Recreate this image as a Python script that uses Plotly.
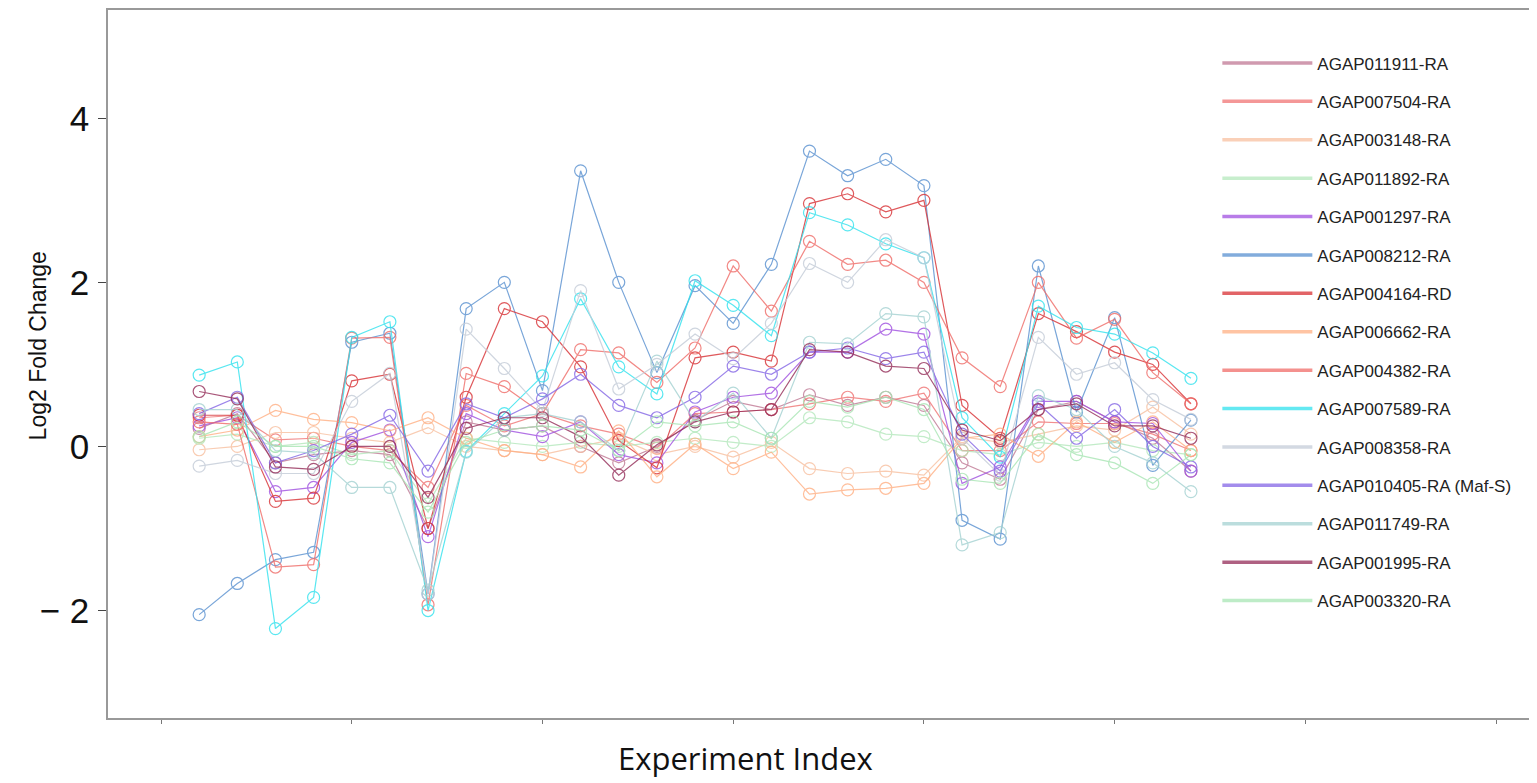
import plotly.graph_objects as go

experiments = list(range(1, 28))

gene_names = [
    "AGAP011911-RA", "AGAP007504-RA", "AGAP003148-RA", "AGAP011892-RA",
    "AGAP001297-RA", "AGAP008212-RA", "AGAP004164-RD", "AGAP006662-RA",
    "AGAP004382-RA", "AGAP007589-RA", "AGAP008358-RA", "AGAP010405-RA (Maf-S)",
    "AGAP011749-RA", "AGAP001995-RA", "AGAP003320-RA",
]

agap011911 = [0.22, 0.4, -0.2, -0.1, -0.05, -0.1, -1.0, 0.3, 0.2, 0.25, 0.0, -0.2, 0.0, 0.32, 0.55, 0.45, 0.63, 0.5, 0.6, 0.5, -0.2, -0.4, 0.45, 0.55, 0.3, 0.1, -0.3]
agap007504 = [0.35, 0.38, 0.08, 0.1, 0.0, -0.05, -0.5, 0.5, 0.25, 0.4, 0.25, 0.15, -0.02, 0.4, 0.42, 0.45, 0.52, 0.6, 0.55, 0.65, -0.05, -0.05, 0.3, 0.28, 0.28, 0.15, -0.05]
agap003148 = [-0.04, 0.0, 0.17, 0.17, 0.1, 0.05, 0.23, 0.0, -0.05, -0.1, 0.0, 0.1, -0.1, 0.0, -0.13, 0.05, -0.27, -0.33, -0.3, -0.35, 0.12, 0.05, 0.15, 0.25, 0.2, 0.48, 0.15]
agap011892 = [0.1, 0.15, 0.0, 0.05, -0.1, -0.05, -0.7, 0.1, 0.05, 0.0, 0.05, 0.0, 0.05, 0.1, 0.05, 0.0, 0.35, 0.3, 0.15, 0.12, -0.05, -0.1, 0.05, 0.0, 0.05, -0.05, -0.1]
agap001297 = [0.25, 0.35, -0.55, -0.5, 0.05, 0.2, -1.1, 0.4, 0.2, 0.12, 0.3, -0.1, -0.2, 0.42, 0.6, 0.65, 1.15, 1.15, 1.43, 1.37, -0.45, -0.25, 0.55, 0.55, 0.3, 0.28, -0.3]
agap008212 = [-2.05, -1.67, -1.38, -1.29, 1.27, 1.38, -1.8, 1.68, 2.0, 0.68, 3.36, 2.0, 0.9, 1.96, 1.5, 2.22, 3.6, 3.3, 3.5, 3.18, -0.9, -1.13, 2.2, 0.42, 1.57, -0.23, 0.32]
agap004164 = [0.38, 0.38, -0.67, -0.63, 0.8, 0.88, -1.0, 0.6, 1.68, 1.52, 0.97, 0.07, -0.26, 1.08, 1.15, 1.04, 2.96, 3.08, 2.86, 3.0, 0.5, 0.1, 1.62, 1.4, 1.15, 1.0, 0.52]
agap006662 = [0.12, 0.2, 0.44, 0.33, 0.29, 0.19, 0.35, 0.1, -0.05, -0.1, -0.25, 0.19, -0.37, 0.03, -0.27, -0.07, -0.58, -0.53, -0.51, -0.45, 0.1, 0.15, -0.12, 0.3, 0.05, 0.3, -0.05]
agap004382 = [0.3, 0.27, -1.47, -1.44, 1.32, 1.33, -1.93, 0.89, 0.73, 0.4, 1.18, 1.14, 0.78, 1.2, 2.2, 1.65, 2.5, 2.22, 2.27, 2.0, 1.08, 0.73, 2.0, 1.32, 1.55, 0.9, 0.52]
agap007589 = [0.87, 1.03, -2.22, -1.84, 1.33, 1.52, -2.0, -0.06, 0.4, 0.86, 1.8, 0.97, 0.64, 2.02, 1.72, 1.35, 2.85, 2.7, 2.47, 2.3, 0.35, -0.13, 1.71, 1.45, 1.37, 1.14, 0.83]
agap008358 = [-0.24, -0.17, -0.33, -0.33, 0.55, 0.89, -1.8, 1.43, 0.95, 0.44, 1.9, 0.7, 1.0, 1.37, 1.07, 1.5, 2.23, 2.0, 2.52, 2.3, 0.1, -0.35, 1.33, 0.88, 1.02, 0.57, 0.33]
agap010405 = [0.4, 0.6, -0.2, -0.05, 0.15, 0.38, -0.3, 0.52, 0.35, 0.58, 0.88, 0.5, 0.35, 0.6, 0.98, 0.88, 1.15, 1.2, 1.07, 1.15, 0.15, -0.3, 0.52, 0.1, 0.45, 0.0, -0.25]
agap011749 = [0.45, 0.45, -0.05, -0.08, -0.5, -0.5, -1.75, -0.07, 0.35, 0.4, 0.3, -0.05, 1.04, 0.3, 0.65, 0.1, 1.27, 1.25, 1.62, 1.58, -1.2, -1.05, 0.62, 0.45, 0.0, -0.2, -0.55]
agap001995 = [0.67, 0.58, -0.25, -0.28, 0.0, 0.0, -0.62, 0.22, 0.35, 0.35, 0.12, -0.35, 0.02, 0.3, 0.42, 0.45, 1.18, 1.15, 0.98, 0.95, 0.2, 0.07, 0.45, 0.52, 0.25, 0.25, 0.1]
agap003320 = [0.12, 0.3, 0.0, 0.0, -0.15, -0.2, -0.8, 0.05, 0.2, 0.25, 0.2, -0.05, 0.3, 0.25, 0.3, 0.1, 0.55, 0.48, 0.6, 0.45, -0.4, -0.45, 0.15, -0.1, -0.2, -0.45, -0.1]

series_values = [
    agap011911, agap007504, agap003148, agap011892, agap001297, agap008212,
    agap004164, agap006662, agap004382, agap007589, agap008358, agap010405,
    agap011749, agap001995, agap003320,
]

colors = [
    "#c07894", "#f07474", "#f8c0a0", "#b4e8bc", "#a050e0", "#5890d0",
    "#d83034", "#ffb084", "#f06c68", "#30e2ee", "#c4ccd8", "#8466e6",
    "#a4d2d2", "#942c58", "#a8e6b4",
]

y_ticks = [-2, 0, 2, 4]
y_tick_text = ["\u2212 2", "0", "2", "4"]
x_ticks = [0, 5, 10, 15, 20, 25, 30, 35]

fig = go.Figure()

for name, vals, col in zip(gene_names, series_values, colors):
    fig.add_trace(go.Scatter(
        x=experiments, y=vals, mode="lines+markers", name=name,
        line=dict(color=col, width=1.2),
        marker=dict(symbol="circle-open", size=12, color=col, line=dict(width=1.2)),
        opacity=0.8, showlegend=False,
    ))

for i, (name, col) in enumerate(zip(gene_names, colors)):
    fig.add_trace(go.Scatter(
        x=[None], y=[None], mode="lines", name=name,
        line=dict(color=col, width=3.5), opacity=0.75,
        legendgroup="g%d" % i, showlegend=True,
    ))

fig.update_layout(
    width=1529, height=775,
    margin=dict(l=100, r=0, t=0, b=65),
    paper_bgcolor="white", plot_bgcolor="white",
    font=dict(family="Liberation Sans, Arial, sans-serif", color="#222"),
    legend=dict(
        x=0.7774, y=0.950, xanchor="left", yanchor="top",
        font=dict(size=17, color="#222"),
        tracegroupgap=13.3, itemwidth=90,
        bgcolor="rgba(0,0,0,0)",
    ),
    xaxis=dict(
        range=[-1.39, 36.02], showgrid=False, zeroline=False,
        tickmode="array", tickvals=x_ticks, showticklabels=False,
        ticks="outside", ticklen=4, tickcolor="#777",
        showline=True, linecolor="#999", linewidth=1.5, mirror=True,
    ),
    yaxis=dict(
        range=[-3.31, 5.32], showgrid=False, zeroline=False,
        tickmode="array", tickvals=y_ticks, ticktext=y_tick_text,
        tickfont=dict(size=35, color="#111"),
        ticks="outside", ticklen=8, tickcolor="#444", ticklabelstandoff=2,
        showline=True, linecolor="#999", linewidth=1.5, mirror=True,
    ),
    annotations=[
        dict(text="Experiment Index", xref="paper", yref="paper",
             x=0.4465, y=-0.0887, xanchor="center", yanchor="bottom", showarrow=False,
             font=dict(family="Open Sans, sans-serif", size=31, color="#111")),
        dict(text="Log2 Fold Change", xref="paper", yref="paper", textangle=-90,
             x=-0.049, y=0.525, xanchor="center", yanchor="middle", showarrow=False,
             font=dict(size=23, color="#111")),
    ],
)

fig.write_html("out.html")
